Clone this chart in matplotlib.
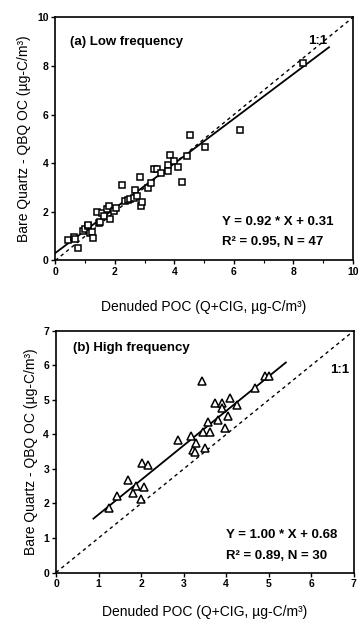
import matplotlib
matplotlib.use("Agg")
import matplotlib.pyplot as plt
import numpy as np

plt.rcParams['font.family'] = ['Liberation Sans', 'DejaVu Sans']
plt.rcParams['font.weight'] = 'bold'

# Panel (a) low frequency
low_x = [0.44, 0.61, 0.65, 0.75, 0.92, 1.00, 1.10, 1.11, 1.15, 1.22, 1.28, 1.39, 1.45, 1.50,
         1.56, 1.65, 1.74, 1.79, 1.85, 1.96, 2.05, 2.24, 2.35, 2.45, 2.50, 2.63, 2.68, 2.75,
         2.85, 2.89, 2.91, 3.10, 3.20, 3.32, 3.42, 3.55, 3.80, 3.84, 3.80, 4.00, 4.11, 4.25,
         4.43, 4.53, 5.04, 6.20, 8.33]
low_y = [0.84, 0.95, 0.90, 0.52, 1.22, 1.30, 1.40, 1.48, 1.12, 1.19, 0.93, 2.00, 1.55, 1.60,
         1.94, 1.85, 2.10, 2.24, 1.70, 2.05, 2.15, 3.10, 2.45, 2.50, 2.55, 2.56, 2.90, 2.65,
         3.45, 2.24, 2.42, 3.00, 3.20, 3.75, 3.75, 3.60, 3.93, 4.34, 3.70, 4.10, 3.83, 3.24,
         4.30, 5.16, 4.68, 5.37, 8.14]
low_fit = (0.92, 0.31)
low_fit_x = [0.0, 9.2]

# Panel (b) high frequency
high_x = [1.24, 1.44, 1.70, 1.81, 1.87, 1.99, 2.07, 2.01, 2.15, 2.87, 3.18, 3.22, 3.30, 3.50,
          3.46, 3.61, 3.58, 3.44, 3.73, 3.89, 3.89, 3.81, 3.97, 4.05, 4.08, 4.26, 4.67, 4.91,
          5.01, 3.26]
high_y = [1.88, 2.22, 2.68, 2.30, 2.50, 2.12, 2.49, 3.18, 3.12, 3.84, 3.94, 3.55, 3.74, 3.60,
          4.08, 4.08, 4.37, 5.55, 4.90, 4.90, 4.75, 4.42, 4.18, 4.52, 5.05, 4.86, 5.34, 5.68,
          5.68, 3.50]
high_fit = (1.00, 0.68)
high_fit_x = [0.88, 5.40]

fig = plt.figure(figsize=(3.62, 6.19), dpi=100)
ax1 = fig.add_axes([0.153, 0.5792, 0.8215, 0.3926])
ax2 = fig.add_axes([0.1547, 0.0751, 0.823, 0.3906])

xlabel = 'Denuded POC (Q+CIG, µg-C/m³)'
ylabel = 'Bare Quartz - QBQ OC (µg-C/m³)'

def style(ax, lim, major, minor, xpad):
    ax.set_xlim(0, lim)
    ax.set_ylim(0, lim)
    ax.set_xticks(np.arange(0, lim + 0.1, major))
    ax.set_yticks(np.arange(0, lim + 0.1, major))
    ax.set_xticks(np.arange(0, lim + 0.1, minor), minor=True)
    ax.tick_params(direction='out', length=3, width=1, labelsize=7.5, pad=2)
    ax.tick_params(which='minor', direction='out', length=2, width=0.8)
    for s in ax.spines.values():
        s.set_linewidth(1.2)
    for lab in ax.get_xticklabels() + ax.get_yticklabels():
        lab.set_fontweight('bold')
    ax.set_xlabel(xlabel, fontsize=10, labelpad=xpad)
    ax.set_ylabel(ylabel, fontsize=10, labelpad=4)

# (a)
ax1.plot([0, 10], [0, 10], color='black', lw=1, ls=(0, (2.5, 2.5)))
fx = np.array(low_fit_x)
ax1.plot(fx, low_fit[0] * fx + low_fit[1], color='black', lw=1.3)
ax1.plot(low_x, low_y, ls='none', marker='s', ms=5, mfc='white', mec='black', mew=1.1)
style(ax1, 10, 2, 1, 16)
ax1.text(0.5, 9.0, '(a) Low frequency', fontsize=9.5, va='center')
ax1.text(8.5, 9.05, '1:1', fontsize=9.5, va='center')
ax1.text(5.6, 1.6, 'Y = 0.92 * X + 0.31', fontsize=9.5, va='center')
ax1.text(5.6, 0.78, 'R² = 0.95, N = 47', fontsize=9.5, va='center')

# (b)
ax2.plot([0, 7], [0, 7], color='black', lw=1, ls=(0, (2.5, 2.5)))
fx = np.array(high_fit_x)
ax2.plot(fx, high_fit[0] * fx + high_fit[1], color='black', lw=1.3)
ax2.plot(high_x, high_y, ls='none', marker='^', ms=5.5, mfc='white', mec='black', mew=1.1)
style(ax2, 7, 1, 1, 11)
ax2.text(0.4, 6.5, '(b) High frequency', fontsize=9.5, va='center')
ax2.text(6.45, 5.85, '1:1', fontsize=9.5, va='center')
ax2.text(4.0, 1.1, 'Y = 1.00 * X + 0.68', fontsize=9.5, va='center')
ax2.text(4.0, 0.47, 'R² = 0.89, N = 30', fontsize=9.5, va='center')

fig.savefig('out.png', dpi=100)
